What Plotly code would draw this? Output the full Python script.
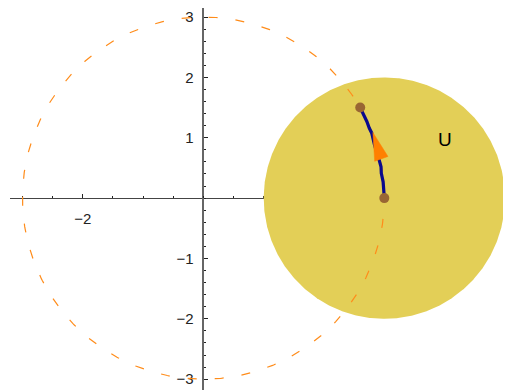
import numpy as np
import plotly.graph_objects as go

# ---- data ----
circle_radius = 3.0                      # dashed circle, centred at origin
disk_center = [3.0, 0.0]                 # yellow disk U
disk_radius = 2.0
path_x = [3.0, 2.99, 2.98, 2.95, 2.945, 2.92, 2.84, 2.79, 2.75, 2.71, 2.63, 2.6]
path_y = [0.0, 0.11, 0.27, 0.41, 0.52, 0.61, 0.87, 1.08, 1.16, 1.27, 1.435, 1.5]
arrow_x = [2.81, 2.84, 3.06]
arrow_y = [1.087, 0.61, 0.69]
point_x = [3.0, 2.6]
point_y = [0.0, 1.5]
label_text = "U"
label_x = 4.0
label_y = 0.97
x_tick_vals = [-2, 2, 4]
x_tick_text = ["\u22122", "2", "4"]
y_tick_vals = [-3, -2, -1, 1, 2, 3]
y_tick_text = ["\u22123", "\u22122", "\u22121", "1", "2", "3"]

x_range = [-3.206, 5.1]
y_range = [-3.18, 3.15]

t = np.linspace(0, 2 * np.pi, 721)

fig = go.Figure()

# yellow disk
fig.add_trace(go.Scatter(
    x=disk_center[0] + disk_radius * np.cos(t),
    y=disk_center[1] + disk_radius * np.sin(t),
    mode="lines", fill="toself", fillcolor="#E3CF57",
    line=dict(color="#E3CF57", width=0), hoverinfo="skip", showlegend=False))

# dashed circle
fig.add_trace(go.Scatter(
    x=circle_radius * np.cos(t), y=circle_radius * np.sin(t),
    mode="lines", line=dict(color="#FF8C1A", width=1.2, dash="9px,18px"),
    hoverinfo="skip", showlegend=False))

# path
fig.add_trace(go.Scatter(
    x=path_x, y=path_y, mode="lines",
    line=dict(color="#0A0A8C", width=3.2), hoverinfo="skip", showlegend=False))

# arrow head
fig.add_trace(go.Scatter(
    x=arrow_x + [arrow_x[0]], y=arrow_y + [arrow_y[0]], mode="lines",
    fill="toself", fillcolor="#FF8000", line=dict(color="#FF8000", width=0.5),
    hoverinfo="skip", showlegend=False))

# end points
fig.add_trace(go.Scatter(
    x=point_x, y=point_y, mode="markers",
    marker=dict(color="#996633", size=10, line=dict(width=0)),
    hoverinfo="skip", showlegend=False))

fig.add_annotation(x=label_x, y=label_y, text=label_text, showarrow=False,
                   font=dict(family="Liberation Sans, Arial, sans-serif", size=19, color="black"))

tickfont = dict(family="Liberation Sans, Arial, sans-serif", size=15, color="#222")

fig.update_layout(
    width=503, height=382,
    margin=dict(l=2, r=0, t=0, b=0),
    paper_bgcolor="white", plot_bgcolor="white",
    xaxis=dict(range=x_range, showgrid=False, zeroline=False, showline=True,
               linecolor="#444", linewidth=1, anchor="free", position=3.18 / 6.33,
               ticks="inside", ticklen=4, tickcolor="#222", tickwidth=1,
               tickmode="array", tickvals=x_tick_vals, ticktext=x_tick_text,
               minor=dict(dtick=0.5, tick0=0, ticks="inside", ticklen=2,
                          tickcolor="#222", tickwidth=1),
               tickfont=tickfont, ticklabelstandoff=7, layer="below traces",
               automargin=False, fixedrange=True),
    yaxis=dict(range=y_range, showgrid=False, zeroline=False, showline=True,
               linecolor="#666", linewidth=1.5, anchor="free", position=3.206 / 8.306,
               ticks="inside", ticklen=4, tickcolor="#222", tickwidth=1,
               tickmode="array", tickvals=y_tick_vals, ticktext=y_tick_text,
               minor=dict(dtick=0.2, tick0=0, ticks="inside", ticklen=2,
                          tickcolor="#222", tickwidth=1),
               tickfont=tickfont, ticklabelstandoff=6, layer="below traces",
               automargin=False, fixedrange=True),
)

fig.write_html("out.html", config={"displayModeBar": False})
